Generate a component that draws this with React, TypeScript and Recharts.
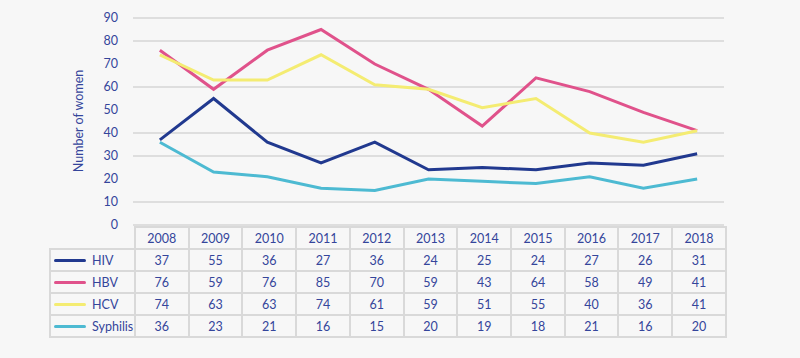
import React from 'react';
import { LineChart, Line, CartesianGrid, XAxis, YAxis } from 'recharts';

const years = ['2008', '2009', '2010', '2011', '2012', '2013', '2014', '2015', '2016', '2017', '2018'];
const hiv = [37, 55, 36, 27, 36, 24, 25, 24, 27, 26, 31];
const hbv = [76, 59, 76, 85, 70, 59, 43, 64, 58, 49, 41];
const hcv = [74, 63, 63, 74, 61, 59, 51, 55, 40, 36, 41];
const syphilis = [36, 23, 21, 16, 15, 20, 19, 18, 21, 16, 20];
const yTicks = [0, 10, 20, 30, 40, 50, 60, 70, 80, 90];

const seriesList = [
  { key: 'hiv', name: 'HIV', values: hiv, color: '#21398f' },
  { key: 'hbv', name: 'HBV', values: hbv, color: '#e0528b' },
  { key: 'hcv', name: 'HCV', values: hcv, color: '#f4ec72' },
  { key: 'syphilis', name: 'Syphilis', values: syphilis, color: '#4dbad2' },
];

const data = years.map((y, i) => {
  const row: any = { year: y };
  seriesList.forEach((s) => { row[s.key] = s.values[i]; });
  return row;
});

const textColor = '#34459b';
const borderColor = '#d9d9d9';
const font = 'Lato, "Noto Sans", sans-serif';
const colW = 591 / 11;

export default function App() {
  const cell: React.CSSProperties = {
    border: `2px solid ${borderColor}`,
    width: colW,
    height: 22,
    padding: 0,
    textAlign: 'center',
    fontSize: 12.5,
    color: textColor,
    boxSizing: 'border-box',
  };
  return (
    <div style={{ position: 'absolute', left: 0, top: 0, width: 800, height: 358, background: '#f7f7f7', fontFamily: font }}>
      <LineChart width={800} height={240} data={data} margin={{ top: 18, right: 76, left: 93, bottom: 15 }}>
        <CartesianGrid vertical={false} stroke="#d6d6d6" strokeWidth={1.5} />
        <XAxis dataKey="year" hide padding={{ left: colW / 2, right: colW / 2 }} />
        <YAxis
          width={40}
          domain={[0, 90]}
          ticks={yTicks}
          axisLine={false}
          tickLine={false}
          tickMargin={9}
          tick={{ fill: textColor, fontSize: 12.5, fontFamily: font }}
          label={{
            content: () => (
              <text x={80} y={121} transform="rotate(-90 80 121)" textAnchor="middle" dominantBaseline="middle" fill={textColor} fontSize={12.5} fontFamily={font}>
                Number of women
              </text>
            ),
          }}
        />
        {seriesList.map((s) => (
          <Line key={s.key} dataKey={s.key} stroke={s.color} strokeWidth={3} dot={false} type="linear" isAnimationActive={false} />
        ))}
      </LineChart>
      <table style={{ position: 'absolute', left: 49, top: 226, borderCollapse: 'collapse', tableLayout: 'fixed', fontFamily: font }}>
        <tbody>
          <tr>
            <td style={{ width: 84, padding: 0, border: 'none' }} />
            {years.map((y) => (
              <td key={y} style={cell}>{y}</td>
            ))}
          </tr>
          {seriesList.map((s) => (
            <tr key={s.key}>
              <td style={{ ...cell, width: 84, textAlign: 'left', paddingLeft: 3, whiteSpace: 'nowrap' }}>
                <span style={{ display: 'inline-block', width: 32, height: 3, borderRadius: 2, background: s.color, verticalAlign: 'middle', marginRight: 6 }} />
                <span style={{ verticalAlign: 'middle' }}>{s.name}</span>
              </td>
              {s.values.map((v, i) => (
                <td key={i} style={cell}>{v}</td>
              ))}
            </tr>
          ))}
        </tbody>
      </table>
    </div>
  );
}
